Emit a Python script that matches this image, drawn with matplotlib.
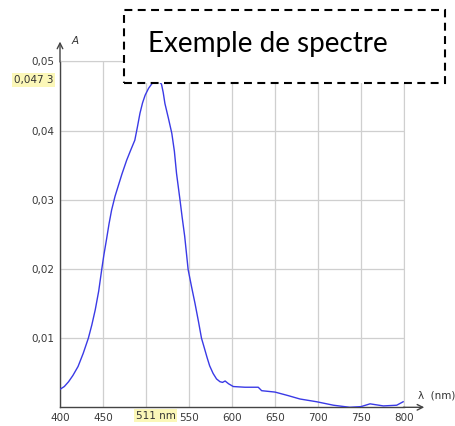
import numpy as np
import matplotlib
matplotlib.use("Agg")
import matplotlib.pyplot as plt
from matplotlib.patches import Rectangle
from matplotlib.transforms import blended_transform_factory

# -------------------------------
# Spectrum values
# -------------------------------
wavelength = [400, 405, 410, 415, 421, 427, 433, 437, 441, 445, 448.5, 451, 454, 457,
              460, 464, 468, 472, 477.5, 482, 487, 490, 493, 496, 499, 503, 506.5,
              511, 515, 518, 520, 522, 526, 530, 533, 535.5, 539.5, 542, 545, 549,
              553, 557, 561, 564.5, 568, 571, 574, 578, 582, 586, 589, 592, 596,
              601.5, 615, 630.5, 634.5, 650, 665, 679, 698.5, 718, 737, 750, 760.5,
              776, 791.5, 799]
absorbance = [0.0026, 0.0030, 0.0037, 0.0046, 0.0059, 0.0078, 0.0100, 0.0119, 0.0141,
              0.0168, 0.0199, 0.0220, 0.0242, 0.0265, 0.0285, 0.0305, 0.0321, 0.0337,
              0.0357, 0.0371, 0.0386, 0.0405, 0.0425, 0.0440, 0.0451, 0.0461, 0.0467,
              0.0473, 0.0471, 0.0467, 0.0455, 0.0439, 0.0418, 0.0396, 0.0370, 0.0338,
              0.0300, 0.0275, 0.0247, 0.0199, 0.0174, 0.0150, 0.0124, 0.0100, 0.0085,
              0.0072, 0.0060, 0.0049, 0.0041, 0.0037, 0.0036, 0.0038, 0.0034, 0.0030,
              0.0029, 0.0029, 0.0024, 0.0022, 0.0017, 0.0012, 0.0008, 0.0003, 0.0000,
              0.0001, 0.0005, 0.0002, 0.0003, 0.0008]

x_ticks = [400, 450, 500, 550, 600, 650, 700, 750, 800]
x_labels = ["400", "450", "", "550", "600", "650", "700", "750", "800"]
y_ticks = [0.01, 0.02, 0.03, 0.04, 0.05]
y_labels = ["0,01", "0,02", "0,03", "0,04", "0,05"]

peak_wl = 511
peak_A = 0.0473
title = "Exemple de spectre"

W, H = 455, 426
fig = plt.figure(figsize=(W / 100, H / 100), dpi=100)
ax = fig.add_axes([60 / W, 18.7 / H, 344 / W, 346 / H])

ax.plot(wavelength, absorbance, color="#3a3ae6", lw=1.0, zorder=3)

ax.set_xlim(400, 800)
ax.set_ylim(0, 0.05)
ax.set_xticks(x_ticks)
ax.set_xticklabels(x_labels)
ax.set_yticks(y_ticks)
ax.set_yticklabels(y_labels)
ax.tick_params(length=0, labelsize=7.5, colors="#3a3a3a", pad=4)
ax.grid(True, color="#cfcfcf", lw=0.9)

for side in ["top", "right"]:
    ax.spines[side].set_color("#cfcfcf")
for side in ["left", "bottom"]:
    ax.spines[side].set_color("#444444")
    ax.spines[side].set_linewidth(1.0)

# axis arrows
ax.annotate("", xy=(0, 1.065), xytext=(0, 0.99), xycoords="axes fraction",
            arrowprops=dict(arrowstyle="->", color="#444444", lw=1.0), annotation_clip=False)
ax.annotate("", xy=(1.067, 0), xytext=(0.99, 0), xycoords="axes fraction",
            arrowprops=dict(arrowstyle="->", color="#444444", lw=1.0), annotation_clip=False)
ax.text(0.045, 1.06, "A", transform=ax.transAxes, fontsize=7.5, style="italic",
        color="#333333", ha="center", va="center")
ax.text(1.04, 0.035, "λ  (nm)", transform=ax.transAxes, fontsize=7.5,
        color="#333333", ha="left", va="center", clip_on=False)

# peak markers on the axes
ty = blended_transform_factory(ax.transAxes, ax.transData)
ax.text(-0.02, peak_A, "0,047 3", transform=ty, ha="right", va="center",
        fontsize=7.5, color="#333333",
        bbox=dict(boxstyle="square,pad=0.15", fc="#fbf7b8", ec="none"))
tx = blended_transform_factory(ax.transData, ax.transAxes)
ax.text(peak_wl, -0.024, "511 nm", transform=tx, ha="center", va="center",
        fontsize=7.5, color="#333333",
        bbox=dict(boxstyle="square,pad=0.15", fc="#fbf7b8", ec="none"))

# dashed title box drawn over the top of the plot
box = Rectangle((124 / W, 1 - 83 / H), (445 - 124) / W, (83 - 10) / H,
                transform=fig.transFigure, facecolor="white", edgecolor="black",
                lw=1.5, linestyle=(0, (3.8, 2.6)), zorder=10)
fig.patches.append(box)
fig.text(148 / W, 1 - 44 / H, title, fontsize=20, family="Lato",
         ha="left", va="center", zorder=11)

fig.savefig("out.png", dpi=100)
